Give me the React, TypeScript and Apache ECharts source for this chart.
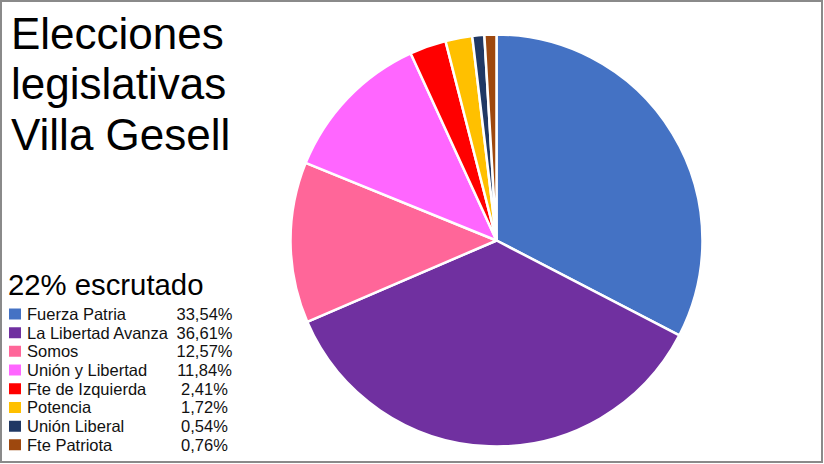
import React, { useEffect, useRef } from "react";
import * as echarts from "echarts";

const titleLines = ["Elecciones", "legislativas", "Villa Gesell"];
const subtitle = "22% escrutado";
const parties = [
  "Fuerza Patria",
  "La Libertad Avanza",
  "Somos",
  "Unión y Libertad",
  "Fte de Izquierda",
  "Potencia",
  "Unión Liberal",
  "Fte Patriota",
];
// Percent labels as printed in the legend
const legendLabels = ["33,54%", "36,61%", "12,57%", "11,84%", "2,41%", "1,72%", "0,54%", "0,76%"];
// Slice sizes as drawn in the pie
const sliceShares = [32.6, 35.9, 12.6, 12.0, 2.86, 2.1, 0.94, 0.94];
const colors = [
  "#4472C4",
  "#7030A0",
  "#FF6699",
  "#FF66FF",
  "#FF0000",
  "#FFC000",
  "#203864",
  "#9E480E",
];

const FONT = "'Liberation Sans', Arial, sans-serif";

export default function App() {
  const ref = useRef<HTMLDivElement>(null);
  useEffect(() => {
    document.body.style.margin = "0";
    const chart = echarts.init(ref.current!, null, { renderer: "svg" });
    const data = parties.map((name, i) => ({
      name,
      value: sliceShares[i],
      itemStyle: { color: colors[i] },
    }));
    const labelByName: Record<string, string> = {};
    parties.forEach((p, i) => (labelByName[p] = legendLabels[i]));
    const rt = { fontFamily: FONT, fontSize: 16.5, color: "#111", lineHeight: 18.7 };
    chart.setOption({
      animation: false,
      backgroundColor: "#ffffff",
      legend: {
        orient: "vertical",
        left: 7,
        top: 304.6,
        height: 160,
        padding: 0,
        icon: "rect",
        itemWidth: 14,
        itemHeight: 13,
        itemGap: 0,
        selectedMode: false,
        data: parties,
        formatter: (name: string) => `{n|${name}}{v|${labelByName[name]}}`,
        textStyle: {
          ...rt,
          rich: {
            n: { ...rt, width: 152 },
            v: { ...rt, width: 51, align: "center" },
          },
        },
      },
      graphic: [
        {
          type: "rect",
          shape: { x: 1, y: 1, width: 821, height: 461 },
          style: { fill: "none", stroke: "#8a8a8a", lineWidth: 2 },
          silent: true,
        },
        ...titleLines.map((t, i) => ({
          type: "text",
          x: 11,
          y: 33 + i * 50.5,
          style: {
            text: t,
            fontFamily: FONT,
            fontSize: 44,
            fill: "#000",
            verticalAlign: "middle",
          },
        })),
        {
          type: "text",
          x: 8,
          y: 284,
          style: {
            text: subtitle,
            fontFamily: FONT,
            fontSize: 29.3,
            fill: "#000",
            verticalAlign: "middle",
          },
        },
      ],
      series: [
        {
          type: "pie",
          center: [496.5, 240.5],
          radius: 206,
          startAngle: 90,
          clockwise: true,
          label: { show: false },
          labelLine: { show: false },
          emphasis: { disabled: true },
          itemStyle: { borderColor: "#ffffff", borderWidth: 2.5 },
          data,
        },
      ],
    });
    return () => chart.dispose();
  }, []);
  return <div ref={ref} style={{ width: 824, height: 464 }} />;
}
